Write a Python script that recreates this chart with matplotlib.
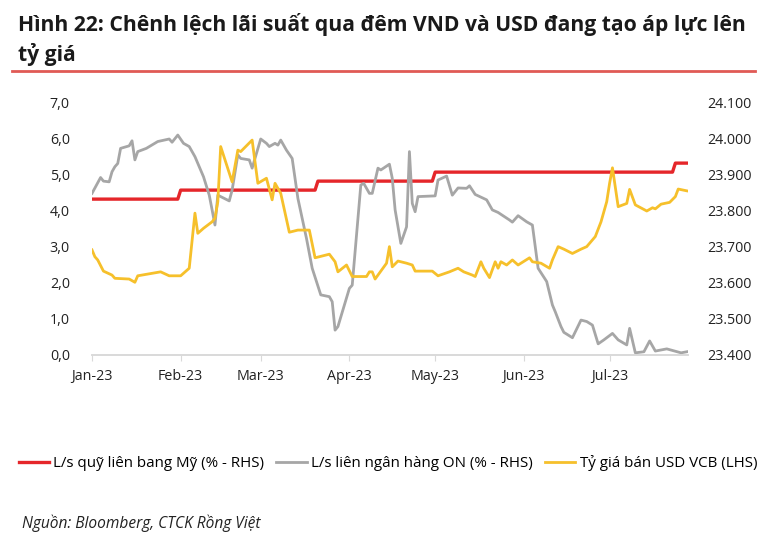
import matplotlib
matplotlib.use("Agg")
import matplotlib.pyplot as plt
import matplotlib.dates as mdates
import pandas as pd

plt.rcParams['font.family'] = ['Open Sans', 'DejaVu Sans']

# Fed funds rate (%)
fed_dates = ["2023-01-01", "2023-01-31", "2023-02-01", "2023-03-20", "2023-03-21",
             "2023-04-30", "2023-05-01", "2023-07-23", "2023-07-24", "2023-07-28"]
fed_vals = [4.33, 4.33, 4.58, 4.58, 4.83, 4.83, 5.08, 5.08, 5.33, 5.33]

# interbank overnight rate (%)
on_dates = ["2023-01-01", "2023-01-04", "2023-01-05", "2023-01-07", "2023-01-08", "2023-01-09",
            "2023-01-10", "2023-01-11", "2023-01-14", "2023-01-15", "2023-01-16", "2023-01-17",
            "2023-01-20", "2023-01-24", "2023-01-28", "2023-01-29", "2023-01-31", "2023-02-02",
            "2023-02-04", "2023-02-06", "2023-02-09", "2023-02-11", "2023-02-12", "2023-02-13",
            "2023-02-14", "2023-02-15", "2023-02-18", "2023-02-19", "2023-02-21", "2023-02-22",
            "2023-02-25", "2023-02-26", "2023-03-01", "2023-03-03", "2023-03-04", "2023-03-06",
            "2023-03-07", "2023-03-08", "2023-03-10", "2023-03-12", "2023-03-14", "2023-03-17",
            "2023-03-19", "2023-03-22", "2023-03-25", "2023-03-26", "2023-03-27", "2023-03-28",
            "2023-04-01", "2023-04-02", "2023-04-05", "2023-04-06", "2023-04-08", "2023-04-09",
            "2023-04-11", "2023-04-12", "2023-04-15", "2023-04-16", "2023-04-17", "2023-04-19",
            "2023-04-21", "2023-04-22", "2023-04-23", "2023-04-24", "2023-04-25", "2023-05-01",
            "2023-05-02", "2023-05-05", "2023-05-07", "2023-05-09", "2023-05-12", "2023-05-13",
            "2023-05-15", "2023-05-19", "2023-05-21", "2023-05-23", "2023-05-27", "2023-05-28",
            "2023-05-30", "2023-06-02", "2023-06-04", "2023-06-05", "2023-06-06", "2023-06-09",
            "2023-06-11", "2023-06-12", "2023-06-14", "2023-06-15", "2023-06-18", "2023-06-21",
            "2023-06-23", "2023-06-25", "2023-06-27", "2023-06-29", "2023-07-02", "2023-07-04",
            "2023-07-07", "2023-07-08", "2023-07-10", "2023-07-13", "2023-07-15", "2023-07-17",
            "2023-07-21", "2023-07-26", "2023-07-28"]
on_vals = [4.49, 4.93, 4.83, 4.81, 5.09, 5.23,
           5.32, 5.74, 5.81, 5.95, 5.42, 5.65,
           5.74, 5.93, 6.00, 5.91, 6.11, 5.88,
           5.79, 5.51, 4.95, 4.44, 4.03, 3.61,
           4.44, 4.40, 4.28, 4.58, 5.56, 5.46,
           5.42, 5.19, 6.00, 5.88, 5.79, 5.88,
           5.83, 5.97, 5.69, 5.46, 4.35, 3.24,
           2.41, 1.67, 1.62, 1.48, 0.69, 0.79,
           1.85, 1.94, 4.72, 4.77, 4.49, 4.49,
           5.19, 5.14, 5.30, 4.91, 4.03, 3.10,
           3.56, 5.65, 4.21, 3.98, 4.40, 4.42,
           4.86, 4.97, 4.44, 4.64, 4.63, 4.70,
           4.46, 4.31, 4.03, 3.96, 3.75, 3.69,
           3.87, 3.70, 3.61, 3.01, 2.41, 2.04,
           1.39, 1.20, 0.79, 0.63, 0.48, 0.97,
           0.93, 0.83, 0.31, 0.42, 0.60, 0.42,
           0.28, 0.74, 0.06, 0.09, 0.39, 0.11,
           0.17, 0.06, 0.09]

# VCB USD selling rate
fx_dates = ["2023-01-01", "2023-01-02", "2023-01-03", "2023-01-05", "2023-01-08", "2023-01-09",
            "2023-01-14", "2023-01-16", "2023-01-17", "2023-01-25", "2023-01-28", "2023-02-01",
            "2023-02-04", "2023-02-06", "2023-02-07", "2023-02-09", "2023-02-12", "2023-02-13",
            "2023-02-14", "2023-02-15", "2023-02-19", "2023-02-21", "2023-02-22", "2023-02-26",
            "2023-02-28", "2023-03-03", "2023-03-05", "2023-03-06", "2023-03-08", "2023-03-11",
            "2023-03-14", "2023-03-18", "2023-03-20", "2023-03-25", "2023-03-27", "2023-03-28",
            "2023-03-31", "2023-04-02", "2023-04-07", "2023-04-08", "2023-04-09", "2023-04-10",
            "2023-04-14", "2023-04-15", "2023-04-16", "2023-04-18", "2023-04-21", "2023-04-23",
            "2023-04-24", "2023-04-30", "2023-05-02", "2023-05-06", "2023-05-09", "2023-05-11",
            "2023-05-14", "2023-05-15", "2023-05-17", "2023-05-18", "2023-05-20", "2023-05-22",
            "2023-05-23", "2023-05-24", "2023-05-26", "2023-05-28", "2023-05-30", "2023-06-03",
            "2023-06-04", "2023-06-07", "2023-06-10", "2023-06-11", "2023-06-13", "2023-06-15",
            "2023-06-18", "2023-06-21", "2023-06-23", "2023-06-26", "2023-06-28", "2023-06-30",
            "2023-07-01", "2023-07-02", "2023-07-04", "2023-07-07", "2023-07-08", "2023-07-10",
            "2023-07-14", "2023-07-16", "2023-07-17", "2023-07-19", "2023-07-22", "2023-07-24",
            "2023-07-25", "2023-07-28"]
fx_vals = [23692, 23673, 23664, 23633, 23622, 23613,
           23611, 23602, 23620, 23631, 23620, 23620,
           23641, 23794, 23738, 23752, 23770, 23780,
           23826, 23979, 23881, 23969, 23965, 23997,
           23877, 23891, 23831, 23877, 23849, 23741,
           23747, 23747, 23670, 23680, 23659, 23631,
           23650, 23618, 23618, 23631, 23631, 23611,
           23655, 23701, 23645, 23661, 23655, 23650,
           23633, 23633, 23620, 23631, 23641, 23631,
           23622, 23618, 23659, 23641, 23615, 23659,
           23641, 23659, 23650, 23664, 23650, 23670,
           23659, 23655, 23641, 23664, 23701, 23694,
           23682, 23694, 23701, 23729, 23770, 23826,
           23877, 23920, 23812, 23821, 23860, 23817,
           23800, 23809, 23806, 23819, 23824, 23840,
           23861, 23856]

labels = ["L/s quỹ liên bang Mỹ (% - RHS)", "L/s liên ngân hàng ON (% - RHS)",
          "Tỷ giá bán USD VCB (LHS)"]

RED = "#E5262A"
GRAY = "#A6A6A6"
YELLOW = "#F6C02B"

fig = plt.figure(figsize=(7.67, 5.38), dpi=100)
ax = fig.add_axes([92 / 767, 1 - 355 / 538, (688 - 92) / 767, (355 - 103) / 538])
ax2 = ax.twinx()

l1, = ax.plot(pd.to_datetime(fed_dates), fed_vals, color=RED, lw=2.4)
l2, = ax.plot(pd.to_datetime(on_dates), on_vals, color=GRAY, lw=2.0)
l3, = ax2.plot(pd.to_datetime(fx_dates), fx_vals, color=YELLOW, lw=2.0)

ax.set_ylim(0, 7)
ax.set_yticks(range(0, 8))
ax.set_yticklabels([f"{v},0" for v in range(0, 8)])
ax2.set_ylim(23400, 24100)
ax2.set_yticks(range(23400, 24101, 100))
ax2.set_yticklabels([f"{v:,}".replace(",", ".") for v in range(23400, 24101, 100)])

ax.set_xlim(pd.Timestamp("2023-01-01"), pd.Timestamp("2023-07-28 10:00"))
ax.xaxis.set_major_locator(mdates.MonthLocator())
ax.xaxis.set_major_formatter(mdates.DateFormatter("%b-%y"))

for a in (ax, ax2):
    for s in ("top", "left", "right"):
        a.spines[s].set_visible(False)
    a.spines["bottom"].set_color("#D9D9D9")
    a.spines["bottom"].set_linewidth(1.2)
ax.tick_params(axis="x", length=4, color="#D9D9D9", labelsize=10.3, pad=6, labelcolor="#222222")
ax.tick_params(axis="y", length=0, labelsize=10.3, pad=16, labelcolor="#222222")
ax2.tick_params(axis="y", length=0, labelsize=10.3, pad=14, labelcolor="#222222")

fig.text(18 / 767, 1 - 24 / 538, "Hình 22: Chênh lệch lãi suất qua đêm VND và USD đang tạo áp lực lên",
         fontsize=15.2, fontweight="bold", va="center", ha="left", color="#1a1a1a")
fig.text(18 / 767, 1 - 54 / 538, "tỷ giá", fontsize=15.2, fontweight="bold", va="center",
         ha="left", color="#1a1a1a")
fig.add_artist(plt.Line2D([12 / 767, 755 / 767], [1 - 71 / 538, 1 - 71 / 538],
                          color="#E05A55", lw=2))

fig.legend([l1, l2, l3], labels, loc="center", bbox_to_anchor=(388 / 767, 1 - 463 / 538),
           ncol=3, frameon=False, fontsize=10.9, handlelength=2.0, handletextpad=0.3,
           columnspacing=0.8)

fig.text(22 / 767, 1 - 523 / 538, "Nguồn: Bloomberg, CTCK Rồng Việt", fontsize=11.2,
         style="italic", va="center", ha="left", color="#222222")

fig.savefig("out.png", dpi=100)
